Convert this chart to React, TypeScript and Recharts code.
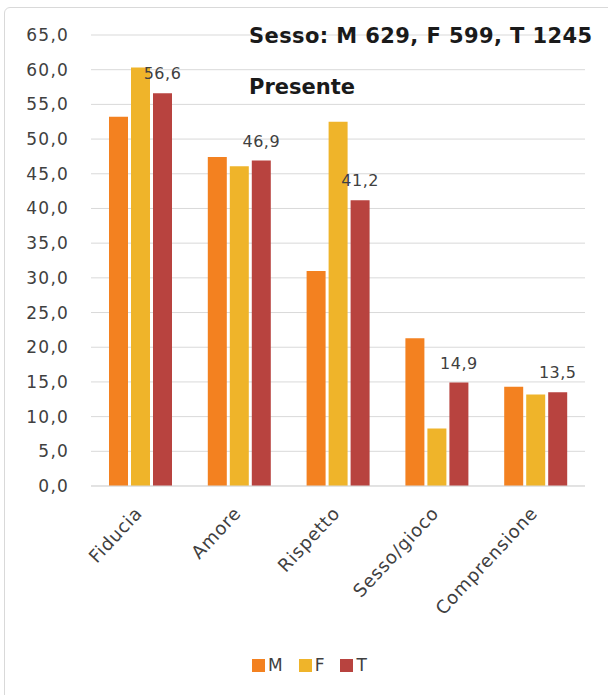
import React from 'react';
import { BarChart, Bar, XAxis, YAxis, CartesianGrid, Legend, LabelList } from 'recharts';

const categories = ['Fiducia', 'Amore', 'Rispetto', 'Sesso/gioco', 'Comprensione'];
const maschi = [53.2, 47.4, 31.0, 21.3, 14.3];
const femmine = [60.3, 46.1, 52.5, 8.3, 13.2];
const totale = [56.6, 46.9, 41.2, 14.9, 13.5];
const yTicks = [0, 5, 10, 15, 20, 25, 30, 35, 40, 45, 50, 55, 60, 65];

const COLORS = { M: '#F38120', F: '#EFB42A', T: '#B8433F' };
const FONT = '"DejaVu Sans", sans-serif';

const data = categories.map((name, i) => ({
    name,
    M: maschi[i],
    F: femmine[i],
    T: totale[i],
}));

const fmt = (v: number) => Number(v).toFixed(1).replace('.', ',');

const AngledTick = ({ x, y, payload }: any) => (
    <g transform={`translate(${x + 3},${y + 20})`}>
        <text textAnchor="end" transform="rotate(-47)" fontSize={18} letterSpacing={0.8} fill="#404040" fontFamily={FONT}>
            {payload.value}
        </text>
    </g>
);

const renderLegend = () => (
    <div style={{ display: 'flex', alignItems: 'center', height: 20, fontFamily: FONT, fontSize: 17, color: '#404040' }}>
        {(['M', 'F', 'T'] as const).map((k) => (
            <div key={k} style={{ display: 'flex', alignItems: 'center', marginRight: 16 }}>
                <span style={{ width: 13, height: 13, background: COLORS[k], display: 'inline-block', marginRight: 3 }} />
                <span>{k}</span>
            </div>
        ))}
    </div>
);

const App = () => {
    return (
        <div style={{ position: 'fixed', left: 0, top: 0, width: 608, height: 695, background: '#fff', overflow: 'hidden' }}>
            <div style={{ position: 'absolute', left: 4, top: 7, width: 640, height: 720, border: '1px solid #d9d9d9', borderRadius: 6 }} />
            <BarChart
                width={608}
                height={695}
                data={data}
                margin={{ top: 35, right: 23, left: 0, bottom: 20 }}
                barSize={19}
                barGap={3}
            >
                <CartesianGrid vertical={false} stroke="#d9d9d9" />
                <XAxis
                    dataKey="name"
                    height={169}
                    interval={0}
                    tickLine={false}
                    axisLine={{ stroke: '#d9d9d9' }}
                    tick={<AngledTick />}
                />
                <YAxis
                    width={91}
                    domain={[0, 65]}
                    ticks={yTicks}
                    tickFormatter={fmt}
                    axisLine={false}
                    tickLine={false}
                    tickMargin={16}
                    tick={{ fontSize: 17, fill: '#404040', fontFamily: FONT, letterSpacing: 1.2 }}
                />
                <Legend verticalAlign="bottom" content={renderLegend} wrapperStyle={{ left: 252 }} />
                <Bar dataKey="M" fill={COLORS.M} isAnimationActive={false} />
                <Bar dataKey="F" fill={COLORS.F} isAnimationActive={false} />
                <Bar dataKey="T" fill={COLORS.T} isAnimationActive={false}>
                    <LabelList
                        dataKey="T"
                        position="top"
                        offset={14}
                        formatter={(v: any) => fmt(v)}
                        style={{ fontSize: 16, fill: '#404040', fontFamily: FONT, letterSpacing: 0.5 }}
                    />
                </Bar>
            </BarChart>
            <div style={{ position: 'absolute', left: 249, top: 24, fontFamily: FONT, fontSize: 21, fontWeight: 700, letterSpacing: 0.4, color: '#1a1a1a', whiteSpace: 'nowrap' }}>
                Sesso: M 629, F 599, T 1245
            </div>
            <div style={{ position: 'absolute', left: 249, top: 75, fontFamily: FONT, fontSize: 21, fontWeight: 700, color: '#1a1a1a', whiteSpace: 'nowrap' }}>
                Presente
            </div>
        </div>
    );
};

export default App;
